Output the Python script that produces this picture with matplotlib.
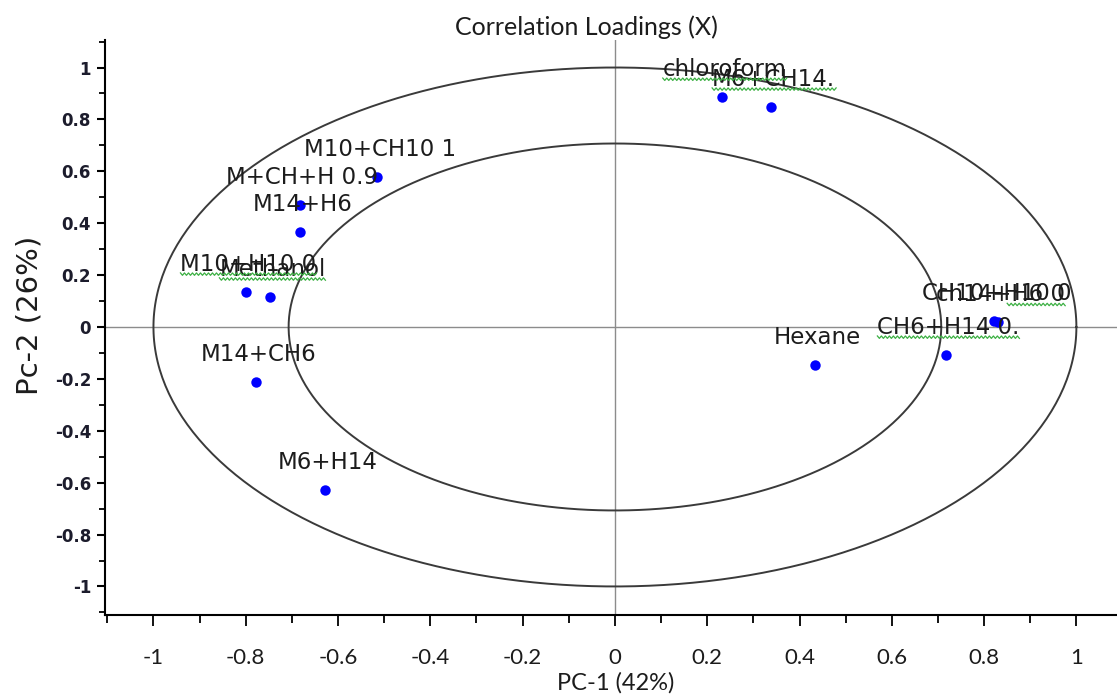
import numpy as np
import matplotlib
matplotlib.use("Agg")
import matplotlib.pyplot as plt
from matplotlib.lines import Line2D
from matplotlib.ticker import MultipleLocator, FuncFormatter
from matplotlib.transforms import IdentityTransform

plt.rcParams['axes.unicode_minus'] = False

# loadings
labels = ["chloroform", "M6+CH14.", "M10+CH10 1", "M+CH+H 0.9", "M14+H6",
          "M10+H10 0", "Methanol", "M14+CH6", "M6+H14", "Hexane",
          "CH6+H14 0.", "CH10+H10 0", "ch14+H6 0"]
pc1 = [0.232, 0.338, -0.516, -0.683, -0.683, -0.800, -0.748, -0.778, -0.628,
       0.433, 0.717, 0.821, 0.830]
pc2 = [0.886, 0.848, 0.578, 0.470, 0.366, 0.135, 0.116, -0.212, -0.628,
       -0.146, -0.108, 0.023, 0.018]
# labels that got the green squiggle (start fraction of the text width)
squiggle = {"chloroform": 0.0, "M6+CH14.": 0.0, "M10+H10 0": 0.0,
            "Methanol": 0.0, "CH6+H14 0.": 0.0, "ch14+H6 0": 0.55}

W, H = 1117, 695
fig = plt.figure(figsize=(W / 100, H / 100), dpi=100)
ax = fig.add_axes([105 / W, 80 / H, 1 - 105 / W, (615 - 40) / H])
ax.set_xlim(-1.105, 1.088)
ax.set_ylim(-1.11, 1.106)

# correlation circles (100% and 50% explained variance)
t = np.linspace(0, 2 * np.pi, 400)
for r in [1.0, np.sqrt(0.5)]:
    ax.plot(r * np.cos(t), r * np.sin(t), color='#3a3a3a', lw=1.4, zorder=2)

ax.axhline(0, color='#8c8c8c', lw=1.0, zorder=1)
ax.axvline(0, color='#8c8c8c', lw=1.0, zorder=1)

ax.plot(pc1, pc2, 'o', color='#0000ff', ms=7.5, mec='none', zorder=3)

texts = []
for lab, x, y in zip(labels, pc1, pc2):
    tx = ax.annotate(lab, (x, y), xytext=(2, 15), textcoords='offset points',
                     ha='center', va='baseline', fontsize=16.5,
                     color='#1c1c1c', zorder=4)
    texts.append(tx)

for side in ['top', 'right']:
    ax.spines[side].set_visible(False)
ax.spines['left'].set_linewidth(1.5)
ax.spines['bottom'].set_linewidth(1.5)

ax.xaxis.set_major_locator(MultipleLocator(0.2))
ax.xaxis.set_minor_locator(MultipleLocator(0.1))
ax.yaxis.set_major_locator(MultipleLocator(0.2))
ax.yaxis.set_minor_locator(MultipleLocator(0.1))
fmt = FuncFormatter(lambda v, p: "0" if abs(v) < 1e-9 else "%g" % round(v, 1))
ax.xaxis.set_major_formatter(fmt)
ax.yaxis.set_major_formatter(fmt)

ax.tick_params(axis='x', which='major', length=8, width=1.3, pad=16,
               labelsize=16, labelcolor='#1c1c1c')
ax.tick_params(axis='x', which='minor', length=6, width=1.3)
ax.tick_params(axis='y', which='major', length=6, width=1.5, pad=4,
               labelsize=12, labelcolor='#1c1c2c')
ax.tick_params(axis='y', which='minor', length=4, width=1.3)
for lbl in ax.get_xticklabels():
    lbl.set_family('Lato')
for lbl in ax.get_yticklabels():
    lbl.set_fontweight('bold')

fig.text(586 / W, 1 - 27 / H, "Correlation Loadings (X)", ha='center',
         va='center', fontsize=18, family='Lato', color='#1c1c1c')
fig.text(616 / W, 1 - 683 / H, "PC-1 (42%)", ha='center', va='center',
         fontsize=17, family='Lato', color='#1c1c1c')
fig.text(30 / W, 1 - 315 / H, "Pc-2 (26%)", ha='center', va='center',
         rotation=90, fontsize=21, color='#1c1c1c')

# green spell-check squiggles under some labels
fig.canvas.draw()
rend = fig.canvas.get_renderer()
for tx in texts:
    lab = tx.get_text()
    if lab not in squiggle:
        continue
    bb = tx.get_window_extent(rend)
    x0 = bb.x0 + squiggle[lab] * bb.width
    xs = np.arange(x0, bb.x1 + 1, 2.0)
    ys = bb.y0 + 2 + np.where(np.arange(len(xs)) % 2 == 0, 1.2, -1.2)
    fig.add_artist(Line2D(xs, ys, color='#3cb043', lw=0.9,
                          transform=IdentityTransform()))

fig.savefig("out.png", dpi=100)
